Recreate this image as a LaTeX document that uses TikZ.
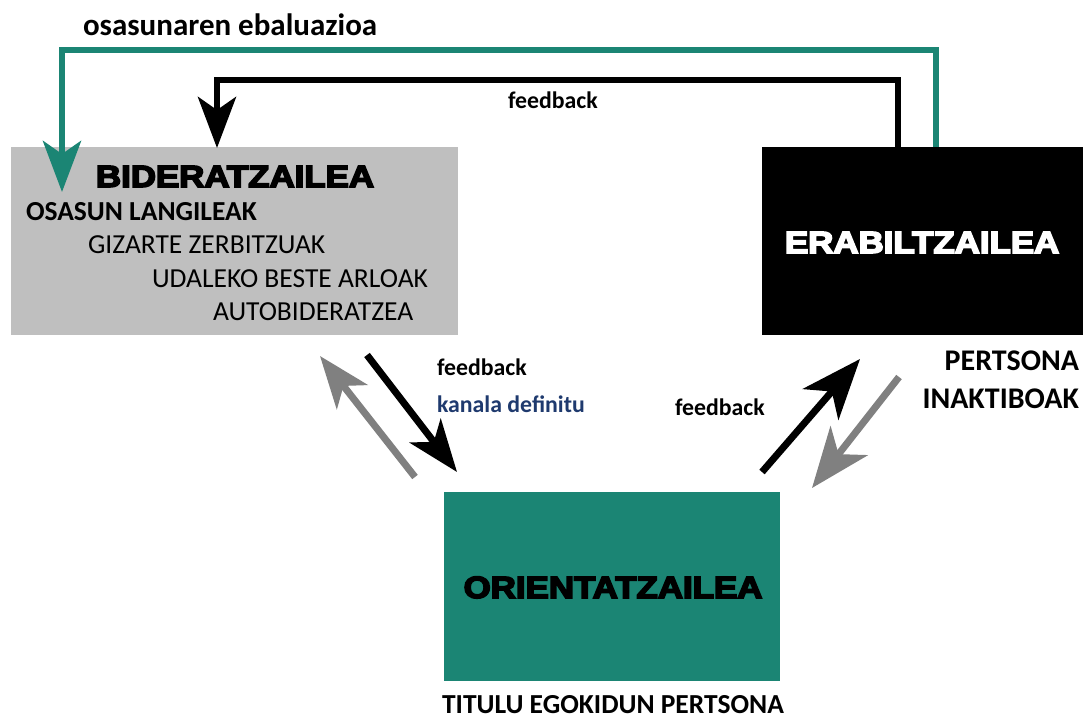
\documentclass[tikz,border=0pt]{standalone}
\usepackage{fontspec}
\setmainfont{Carlito}
\newfontfamily\heavy[BoldFeatures={FakeBold=5}]{Liberation Sans}
\usetikzlibrary{arrows.meta}
\definecolor{tealc}{HTML}{1B8574}
\definecolor{greybox}{HTML}{BFBFBF}
\definecolor{greyarrow}{HTML}{808080}
\definecolor{darkblue}{HTML}{1F3A6E}
\tikzset{
  box/.style={draw=none, inner sep=0pt, outer sep=0pt},
  conn/.style={line width=6.5pt},
  bigtip/.style={-{Stealth[length=51pt,width=38pt,inset=13pt]}},
  diagtip/.style={-{Stealth[length=52pt,width=39pt,inset=14pt]}},
  diagtipbig/.style={-{Stealth[length=60pt,width=47pt,inset=17pt]}},
  diag/.style={line width=7pt},
  txt/.style={inner sep=0pt, outer sep=0pt, font=\fontsize{27.5}{30}\selectfont},
  btxt/.style={txt, font=\fontsize{27.5}{30}\selectfont\bfseries},
  bigbtxt/.style={txt, font=\fontsize{30}{33}\selectfont\bfseries},
  fb/.style={inner sep=0pt, outer sep=0pt, font=\fontsize{23.8}{28}\selectfont\bfseries},
  title/.style={inner sep=0pt, outer sep=0pt, font=\fontsize{30.7}{34}\selectfont\heavy\bfseries},
}
\newcommand{\wide}[1]{\scalebox{1.135}[1]{#1}}
\begin{document}
\begin{tikzpicture}[x=1pt,y=-1pt]
\useasboundingbox[fill=white] (0,0) rectangle (1086,718);
% boxes
\fill[greybox] (11,147) rectangle (458,335);
\coordinate (bidNW) at (11,147);
\node[box, minimum width=447pt, minimum height=188pt, anchor=north west] (bid) at (bidNW) {};
\fill[black] (762,147) rectangle (1083,335);
\node[box, minimum width=321pt, minimum height=188pt, anchor=north west] (erab) at (762,147) {};
\fill[tealc] (444,492) rectangle (780,681);
\node[box, minimum width=336pt, minimum height=189pt, anchor=north west] (orient) at (444,492) {};

% titles
\node[title, anchor=base west] (bidt) at (96,187) {\wide{BIDERATZAILEA}};
\node[title, anchor=base west, text=white] (erabt) at (785,253) {\wide{ERABILTZAILEA}};
\node[title, anchor=base] (orientt) at (613,598) {\wide{ORIENTATZAILEA}};

% grey box list
\node[btxt, anchor=base west] (l1) at (26,220) {OSASUN LANGILEAK};
\node[txt, anchor=base west] (l2) at (88,253) {GIZARTE ZERBITZUAK};
\node[txt, anchor=base west] (l3) at (152,287) {UDALEKO BESTE ARLOAK};
\node[txt, anchor=base west] (l4) at (213,320) {AUTOBIDERATZEA};

% labels
\node[txt, anchor=base west, font=\fontsize{31}{34}\selectfont\bfseries] (eval) at (83,35) {osasunaren ebaluazioa};
\node[fb, anchor=base west] (fbtop) at (508,108) {feedback};
\node[fb, anchor=base west] (fbmid) at (437,375) {feedback};
\node[fb, anchor=base west, text=darkblue] (kanala) at (437,412) {kanala definitu};
\node[fb, anchor=base west] (fbright) at (675,415) {feedback};
\node[bigbtxt, anchor=base east] (pers) at (1079,370) {PERTSONA};
\node[bigbtxt, anchor=base east] (inak) at (1079,408) {INAKTIBOAK};
\node[btxt, anchor=base] (titulu) at (613,713) {TITULU EGOKIDUN PERTSONA};

% top connectors
\coordinate (tealStart) at (936,147);
\coordinate (tealEnd) at (62,192);
\coordinate (blackStart) at (898,147);
\coordinate (blackEnd) at (217,148);
\draw[conn, tealc, bigtip] (tealStart) -- (936,50) -- (62,50) -- (tealEnd);
\draw[conn, black, bigtip] (blackStart) -- (898,80) -- (217,80) -- (blackEnd);

% diagonal arrows
\coordinate (g1s) at (415,477);
\coordinate (g1e) at (320,356);
\coordinate (b1s) at (367,355);
\coordinate (b1e) at (457,472);
\coordinate (b2s) at (762,472);
\coordinate (b2e) at (860,359);
\coordinate (g2s) at (899,377);
\coordinate (g2e) at (812,488);
\draw[diag, greyarrow, diagtip] (g1s) -- (g1e);
\draw[diag, black, diagtip] (b1s) -- (b1e);
\draw[diag, black, diagtipbig] (b2s) -- (b2e);
\draw[diag, greyarrow, diagtipbig] (g2s) -- (g2e);
\end{tikzpicture}
\end{document}
